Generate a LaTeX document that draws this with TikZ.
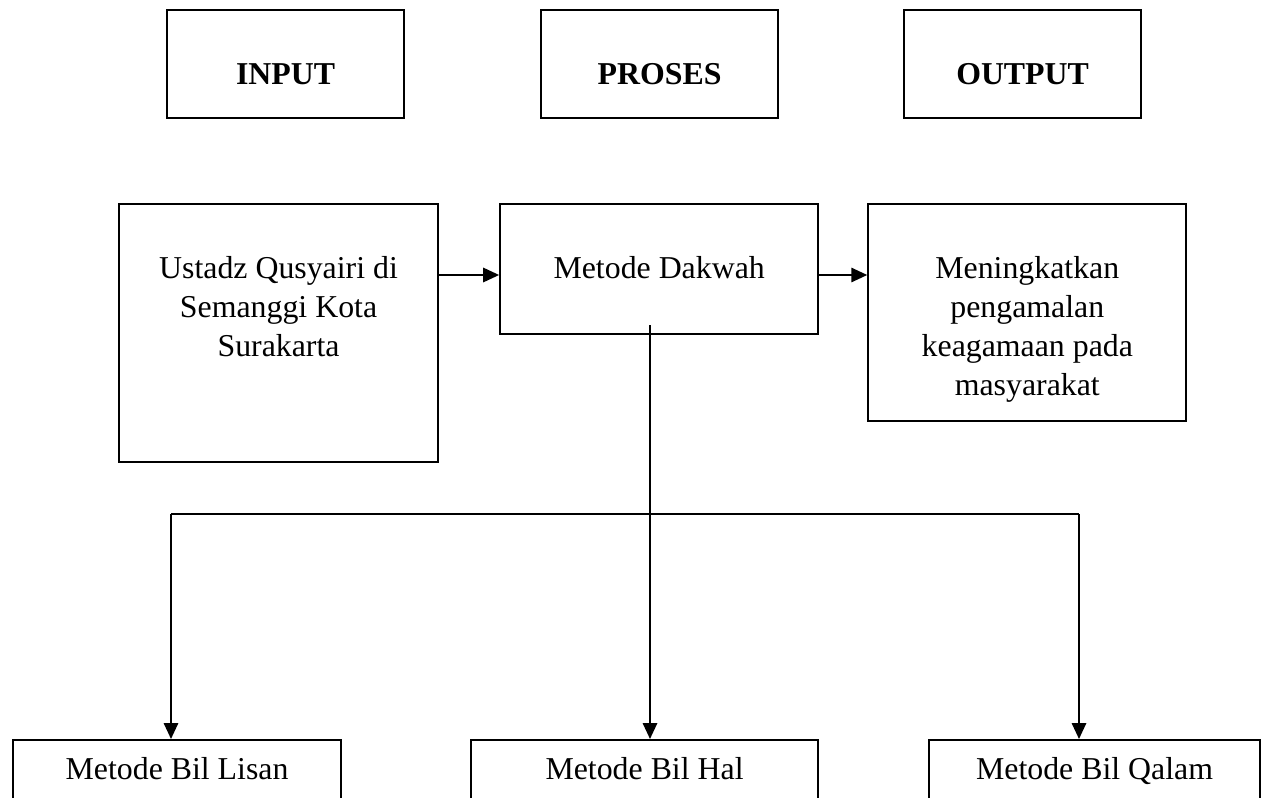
\documentclass[tikz,border=0pt]{standalone}
\usepackage{fontspec}
\setmainfont{Liberation Serif}
\usepackage{tikz}
\usetikzlibrary{arrows.meta,positioning,calc}

% one pixel of the page
\newlength{\px}
\setlength{\px}{0.377pt}
% text hung from the top of a box: width, height, first baseline, text
\newcommand{\boxtext}[4]{\parbox[c][#2\px][t]{#1\px}{\centering\rule{0pt}{#3\px}#4}}

\begin{document}
\begin{tikzpicture}[
  x=0.377pt, y=-0.377pt,
  every node/.style={font=\fontsize{12pt}{14.7pt}\selectfont},
  box/.style={draw=black, line width=0.8pt, inner sep=0pt, anchor=north west},
  arr/.style={-{Triangle[length=6pt,width=5.4pt]}, line width=0.75pt},
  bus/.style={line width=1.1pt}
]
\useasboundingbox (0,0) rectangle (1261,798);

% heading row
\node[box] (input) at (166,9) {\boxtext{237}{108}{74}{\textbf{INPUT}}};
\node[box] (proses) at (540,9) {\boxtext{237}{108}{74}{\textbf{PROSES}}};
\node[box] (output) at (903,9) {\boxtext{237}{108}{74}{\textbf{OUTPUT}}};

% main row
\node[box] (ustadz) at (118,203) {\boxtext{319}{258}{74}{Ustadz Qusyairi di\\Semanggi Kota\\Surakarta}};
\node[box, right=60\px of ustadz.north east, anchor=north west] (dakwah) {\boxtext{318}{130}{74}{Metode Dakwah}};
\node[box, right=48\px of dakwah.north east, anchor=north west] (meningkat) {\boxtext{318}{217}{74}{Meningkatkan\\pengamalan\\keagamaan pada\\masyarakat}};

% methods
\node[box] (lisan) at (12,739) {\boxtext{328}{80}{39}{Metode Bil Lisan}};
\node[box] (hal) at (470,739) {\boxtext{347}{80}{39}{Metode Bil Hal}};
\node[box] (qalam) at (928,739) {\boxtext{331}{80}{39}{Metode Bil Qalam}};

\coordinate (split) at (650,325);
\coordinate (busL) at (171,514);
\coordinate (busR) at (1079,514);

\draw[arr] ([yshift=-72\px]ustadz.north east) -- ([yshift=-72\px]dakwah.north west);
\draw[arr] ([yshift=-72\px]dakwah.north east) -- ([yshift=-72\px]meningkat.north west);
\draw[arr] (split) -- (split |- hal.north);
\draw[bus] (busL) -- (busR);
\draw[arr] (busL) -- (busL |- lisan.north);
\draw[arr] (busR) -- (busR |- qalam.north);
\end{tikzpicture}
\end{document}
